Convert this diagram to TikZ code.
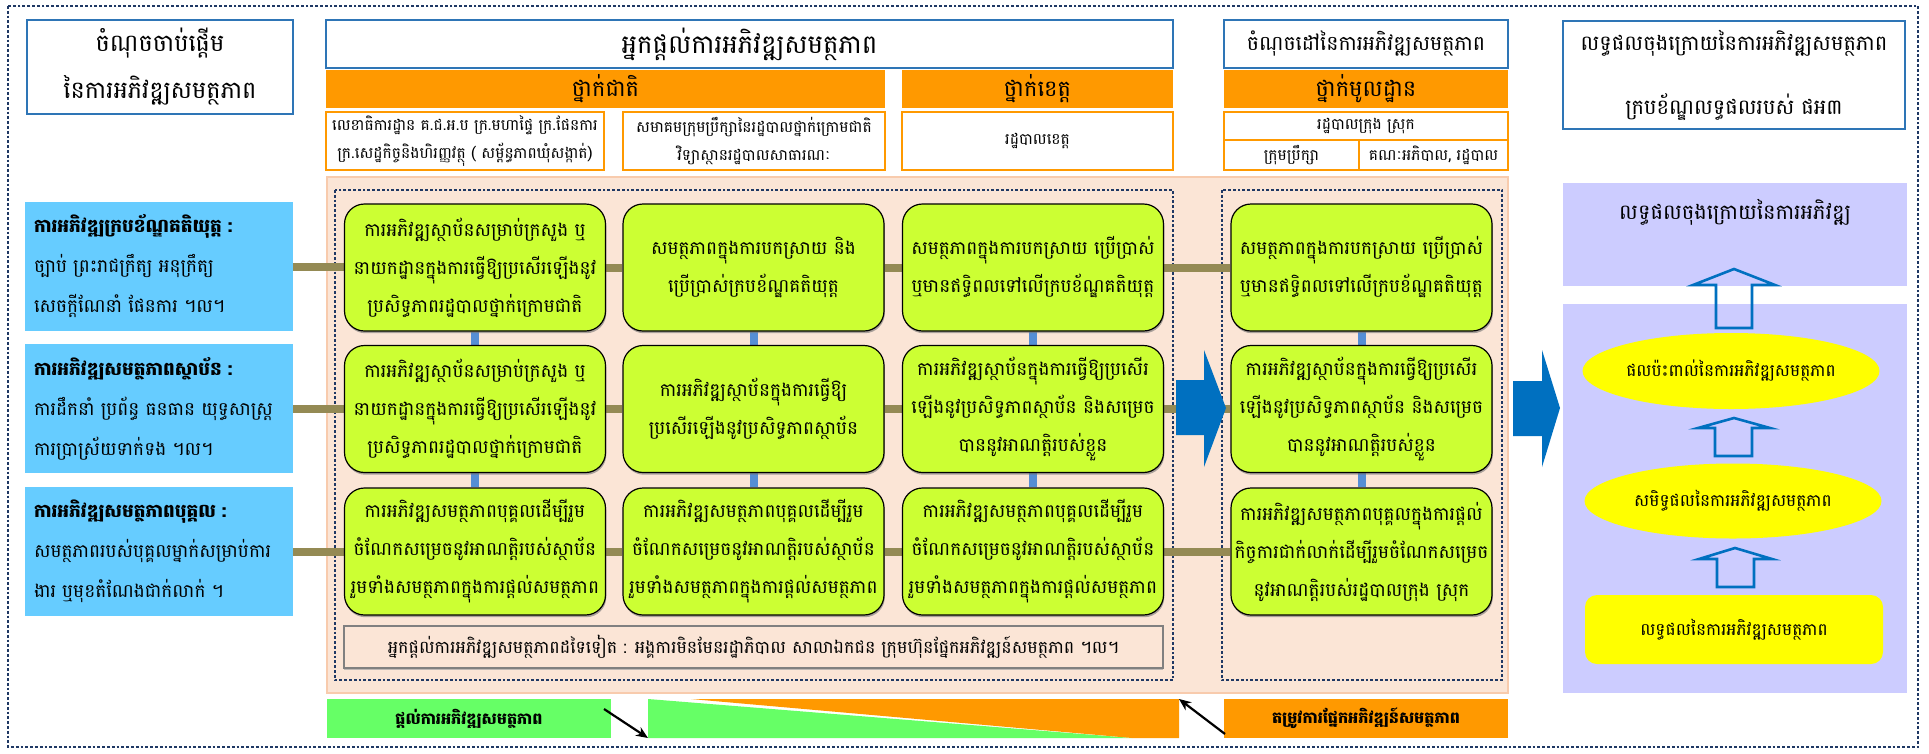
\documentclass[tikz,border=0pt]{standalone}
\usepackage{fontspec}
\newfontfamily\km[Script=Khmer]{Battambang}
\usetikzlibrary{shapes.geometric,calc,arrows.meta,shadows}
\definecolor{navy}{HTML}{1F3864}
\definecolor{hdblue}{HTML}{2E75B6}
\definecolor{orng}{HTML}{FF9900}
\definecolor{peach}{HTML}{FBE5D6}
\definecolor{peachline}{HTML}{F8CBAD}
\definecolor{lime}{HTML}{CCFF33}
\definecolor{skyb}{HTML}{66CCFF}
\definecolor{olivel}{HTML}{948A54}
\definecolor{linkb}{HTML}{558ED5}
\definecolor{arrb}{HTML}{0070C0}
\definecolor{lav}{HTML}{CCCCFF}
\definecolor{ylw}{HTML}{FFFF00}
\definecolor{bgreen}{HTML}{66FF66}
\pgfdeclarelayer{back}
\pgfdeclarelayer{links}
\pgfsetlayers{back,links,main}
\tikzset{
  navydots/.style={draw=navy, line width=2.8pt, dash pattern=on 2.8pt off 2pt},
  hdbox/.style={draw=hdblue, line width=1.6pt, fill=white, inner sep=0pt, align=center},
  obar/.style={fill=orng, inner sep=0pt, align=center, font=\km\fontsize{22.5}{26}\selectfont},
  obox/.style={draw=orng, line width=1.6pt, fill=white, inner sep=0pt, align=center, font=\km\fontsize{15.5}{28}\selectfont},
  gbox/.style={draw=black, line width=1.2pt, fill=lime, rounded corners=20pt, inner sep=0pt,
    align=center, font=\km\fontsize{18.5}{38}\selectfont,
    drop shadow={shadow xshift=0.8pt, shadow yshift=-2.2pt, fill=black!55, opacity=0.6}},
  bbox/.style={fill=skyb, inner sep=0pt, minimum width=268pt, minimum height=129pt,
    text width=250pt, align=left, font=\km\fontsize{18.5}{40}\selectfont},
  olink/.style={draw=olivel, line width=8pt},
  blink/.style={draw=linkb, line width=8pt},
  bigarrow/.style={fill=arrb},
  outarrow/.style={draw=arrb, line width=2.6pt, line join=miter},
  blkarrow/.style={draw=black, line width=2.2pt, -{Stealth[length=12pt,width=10pt]}},
}
\begin{document}
\begin{tikzpicture}[x=1pt,y=-1pt]
\useasboundingbox (0,0) rectangle (1929,753);

% outer frame and panels
\begin{pgfonlayer}{back}
  \fill[white] (0,0) rectangle (1929,753);
  \draw[navydots] (8,6) rectangle (1918,747);
  \draw[fill=peach, draw=peachline, line width=1.6pt] (327,177) rectangle (1508,693);
  \draw[navydots, line width=2.4pt] (335,190) rectangle (1173,680);
  \draw[navydots, line width=2.4pt] (1222,190) rectangle (1502,680);
  \fill[lav] (1563,183) rectangle (1907,286);
  \fill[lav] (1563,304) rectangle (1907,693);
\end{pgfonlayer}

% column headings
\node[hdbox, minimum width=266pt, minimum height=94pt, font=\km\fontsize{24}{47}\selectfont]
  (start) at (160,67) {ចំណុចចាប់ផ្តើម\\នៃការអភិវឌ្ឍសមត្ថភាព};
\node[hdbox, minimum width=847pt, minimum height=48pt, font=\km\fontsize{26}{30}\selectfont]
  (prov) at (749.5,44) {អ្នកផ្តល់ការអភិវឌ្ឍសមត្ថភាព};
\node[hdbox, minimum width=284pt, minimum height=48pt, font=\km\fontsize{20.5}{26}\selectfont]
  (target) at (1366,44) {ចំណុចដៅនៃការអភិវឌ្ឍសមត្ថភាព};
\node[hdbox, minimum width=342pt, minimum height=108pt, font=\km\fontsize{21}{64}\selectfont]
  (final) at (1734,75) {លទ្ធផលចុងក្រោយនៃការអភិវឌ្ឍសមត្ថភាព\\ក្របខ័ណ្ឌលទ្ធផលរបស់ ផអ៣};

% levels
\node[obar, minimum width=559pt, minimum height=38pt] (nat) at (605.5,89) {ថ្នាក់ជាតិ};
\node[obar, minimum width=271pt, minimum height=38pt] (prv) at (1037.5,89) {ថ្នាក់ខេត្ត};
\node[obar, minimum width=284pt, minimum height=38pt] (loc) at (1366,89) {ថ្នាក់មូលដ្ឋាន};

\node[obox, minimum width=278pt, minimum height=58pt] (nat1) at (465,141)
  {លេខាធិការដ្ឋាន គ.ជ.អ.ប ក្រ.មហាផ្ទៃ ក្រ.ផែនការ\\ក្រ.សេដ្ឋកិច្ចនិងហិរញ្ញវត្ថុ ( សម្ព័ន្ធភាពឃុំសង្កាត់)};
\node[obox, minimum width=262pt, minimum height=58pt] (nat2) at (754,141)
  {សមាគមក្រុមប្រឹក្សានៃរដ្ឋបាលថ្នាក់ក្រោមជាតិ\\វិទ្យាស្ថានរដ្ឋបាលសាធារណៈ};
\node[obox, minimum width=271pt, minimum height=58pt] (prv1) at (1037.5,141) {រដ្ឋបាលខេត្ត};
\node[obox, minimum width=284pt, minimum height=28pt] (loc1) at (1366,126) {រដ្ឋបាលក្រុង ស្រុក};
\node[obox, minimum width=135pt, minimum height=30pt] (loc2) at (1291.5,155) {ក្រុមប្រឹក្សា};
\node[obox, minimum width=149pt, minimum height=30pt] (loc3) at (1433.5,155) {គណៈអភិបាល, រដ្ឋបាល};

% starting points
\node[bbox] (b1) at (159,266.5) {{\bfseries ការអភិវឌ្ឍក្របខ័ណ្ឌគតិយុត្ត :}\\ច្បាប់ ព្រះរាជក្រឹត្យ អនុក្រឹត្យ\\សេចក្តីណែនាំ ផែនការ ។ល។};
\node[bbox] (b2) at (159,408.5) {{\bfseries ការអភិវឌ្ឍសមត្ថភាពស្ថាប័ន :}\\ការដឹកនាំ ប្រព័ន្ធ ធនធាន យុទ្ធសាស្ត្រ\\ការប្រាស្រ័យទាក់ទង ។ល។};
\node[bbox] (b3) at (159,551.5) {{\bfseries ការអភិវឌ្ឍសមត្ថភាពបុគ្គល :}\\សមត្ថភាពរបស់បុគ្គលម្នាក់សម្រាប់ការ\\ងារ ឬមុខតំណែងជាក់លាក់ ។};

% provider grid
\tikzset{gsize/.style={gbox, minimum width=261pt, minimum height=127pt}}
\node[gsize] (g11) at (475,267.5) {ការអភិវឌ្ឍស្ថាប័នសម្រាប់ក្រសួង ឬ\\នាយកដ្ឋានក្នុងការធ្វើឱ្យប្រសើរឡើងនូវ\\ប្រសិទ្ធភាពរដ្ឋបាលថ្នាក់ក្រោមជាតិ};
\node[gsize] (g12) at (753.5,267.5) {សមត្ថភាពក្នុងការបកស្រាយ និង\\ប្រើប្រាស់ក្របខ័ណ្ឌគតិយុត្ត};
\node[gsize] (g13) at (1033,267.5) {សមត្ថភាពក្នុងការបកស្រាយ ប្រើប្រាស់\\ឬមានឥទ្ធិពលទៅលើក្របខ័ណ្ឌគតិយុត្ត};
\node[gsize] (g14) at (1361.5,267.5) {សមត្ថភាពក្នុងការបកស្រាយ ប្រើប្រាស់\\ឬមានឥទ្ធិពលទៅលើក្របខ័ណ្ឌគតិយុត្ត};

\node[gsize] (g21) at (475,409) {ការអភិវឌ្ឍស្ថាប័នសម្រាប់ក្រសួង ឬ\\នាយកដ្ឋានក្នុងការធ្វើឱ្យប្រសើរឡើងនូវ\\ប្រសិទ្ធភាពរដ្ឋបាលថ្នាក់ក្រោមជាតិ};
\node[gsize] (g22) at (753.5,409) {ការអភិវឌ្ឍស្ថាប័នក្នុងការធ្វើឱ្យ\\ប្រសើរឡើងនូវប្រសិទ្ធភាពស្ថាប័ន};
\node[gsize] (g23) at (1033,409) {ការអភិវឌ្ឍស្ថាប័នក្នុងការធ្វើឱ្យប្រសើរ\\ឡើងនូវប្រសិទ្ធភាពស្ថាប័ន និងសម្រេច\\បាននូវអាណត្តិរបស់ខ្លួន};
\node[gsize] (g24) at (1361.5,409) {ការអភិវឌ្ឍស្ថាប័នក្នុងការធ្វើឱ្យប្រសើរ\\ឡើងនូវប្រសិទ្ធភាពស្ថាប័ន និងសម្រេច\\បាននូវអាណត្តិរបស់ខ្លួន};

\node[gsize] (g31) at (475,551.5) {ការអភិវឌ្ឍសមត្ថភាពបុគ្គលដើម្បីរួម\\ចំណែកសម្រេចនូវអាណត្តិរបស់ស្ថាប័ន\\រួមទាំងសមត្ថភាពក្នុងការផ្តល់សមត្ថភាព};
\node[gsize] (g32) at (753.5,551.5) {ការអភិវឌ្ឍសមត្ថភាពបុគ្គលដើម្បីរួម\\ចំណែកសម្រេចនូវអាណត្តិរបស់ស្ថាប័ន\\រួមទាំងសមត្ថភាពក្នុងការផ្តល់សមត្ថភាព};
\node[gsize] (g33) at (1033,551.5) {ការអភិវឌ្ឍសមត្ថភាពបុគ្គលដើម្បីរួម\\ចំណែកសម្រេចនូវអាណត្តិរបស់ស្ថាប័ន\\រួមទាំងសមត្ថភាពក្នុងការផ្តល់សមត្ថភាព};
\node[gsize] (g34) at (1361.5,551.5) {ការអភិវឌ្ឍសមត្ថភាពបុគ្គលក្នុងការផ្តល់\\កិច្ចការជាក់លាក់ដើម្បីរួមចំណែកសម្រេច\\នូវអាណត្តិរបស់រដ្ឋបាលក្រុង ស្រុក};

\node[draw=gray, line width=2pt, fill=peach, minimum width=819pt, minimum height=42pt, inner sep=0pt,
  font=\km\fontsize{17.5}{22}\selectfont,
  drop shadow={shadow xshift=0pt, shadow yshift=-2pt, fill=gray!70, opacity=0.7}] (other) at (753.5,647)
  {អ្នកផ្តល់ការអភិវឌ្ឍសមត្ថភាពដទៃទៀត : អង្គការមិនមែនរដ្ឋាភិបាល សាលាឯកជន ក្រុមហ៊ុនផ្នែកអភិវឌ្ឍន៍សមត្ថភាព ។ល។};

% links
\begin{pgfonlayer}{links}
  \foreach \r in {1,2,3}{
    \draw[olink] (b\r.east) -- (b\r.east -| g\r1.west);
    \draw[olink] (g\r1.east) -- (g\r2.west);
    \draw[olink] (g\r2.east) -- (g\r3.west);
    \draw[olink] (g\r3.east) -- (g\r4.west);
  }
  \foreach \c in {1,2,3,4}{
    \draw[blink] (g1\c.south) -- (g2\c.north);
    \draw[blink] (g2\c.south) -- (g3\c.north);
  }
\end{pgfonlayer}

% block arrows towards the target and the results
\fill[bigarrow] (1176,380) -- (1204,380) -- (1204,350) -- (1226,408) -- (1204,467) -- (1204,435) -- (1176,435) -- cycle;
\fill[bigarrow] (1513,381) -- (1542,381) -- (1542,350) -- (1560,408) -- (1542,467) -- (1542,436) -- (1513,436) -- cycle;

% results chain
\node[font=\km\fontsize{21}{26}\selectfont, inner sep=0pt] (ftitle) at (1735,212) {លទ្ធផលចុងក្រោយនៃការអភិវឌ្ឍ};
\node[ellipse, fill=ylw, minimum width=297pt, minimum height=76pt, inner sep=0pt,
  font=\km\fontsize{17}{22}\selectfont] (impact) at (1731,371) {ផលប៉ះពាល់នៃការអភិវឌ្ឍសមត្ថភាព};
\node[ellipse, fill=ylw, minimum width=297pt, minimum height=75pt, inner sep=0pt,
  font=\km\fontsize{17}{22}\selectfont] (achv) at (1733,501) {សមិទ្ធផលនៃការអភិវឌ្ឍសមត្ថភាព};
\node[fill=ylw, rounded corners=12pt, minimum width=298pt, minimum height=69pt, inner sep=0pt,
  font=\km\fontsize{17}{22}\selectfont] (outp) at (1734,629.5) {លទ្ធផលនៃការអភិវឌ្ឍសមត្ថភាព};

\draw[outarrow] (1716,328) -- (1716,285) -- (1693,285) -- (1734,269) -- (1775,285) -- (1752,285) -- (1752,328) -- cycle;
\draw[outarrow] (1715,456) -- (1715,428) -- (1698,428) -- (1734,418) -- (1770,428) -- (1752,428) -- (1752,456) -- cycle;
\draw[outarrow] (1717,587) -- (1717,559) -- (1699,559) -- (1735,548) -- (1772,559) -- (1754,559) -- (1754,587) -- cycle;

% supply and demand
\node[fill=bgreen, minimum width=284pt, minimum height=39pt, inner sep=0pt,
  font=\km\bfseries\fontsize{16}{20}\selectfont] (supply) at (469,718.5) {ផ្តល់ការអភិវឌ្ឍសមត្ថភាព};
\node[fill=orng, minimum width=284pt, minimum height=39pt, inner sep=0pt,
  font=\km\bfseries\fontsize{16}{20}\selectfont] (demand) at (1366,718.5) {តម្រូវការផ្នែកអភិវឌ្ឍន៍សមត្ថភាព};
\coordinate (gtopl) at (648,699);
\coordinate (gbotl) at (648,738);
\coordinate (gbotr) at (1132,738);
\coordinate (otopl) at (691,699);
\coordinate (otopr) at (1179,699);
\coordinate (obotr) at (1179,738);
\fill[bgreen] (gtopl) -- (gbotl) -- (gbotr) -- cycle;
\fill[orng] (otopl) -- (otopr) -- (obotr) -- (gbotr) -- cycle;
\coordinate (s1) at (604,709);
\coordinate (d1) at (1225,734);
\draw[blkarrow] (s1) -- (gbotl);
\draw[blkarrow] (d1) -- (otopr);
\end{tikzpicture}
\end{document}
